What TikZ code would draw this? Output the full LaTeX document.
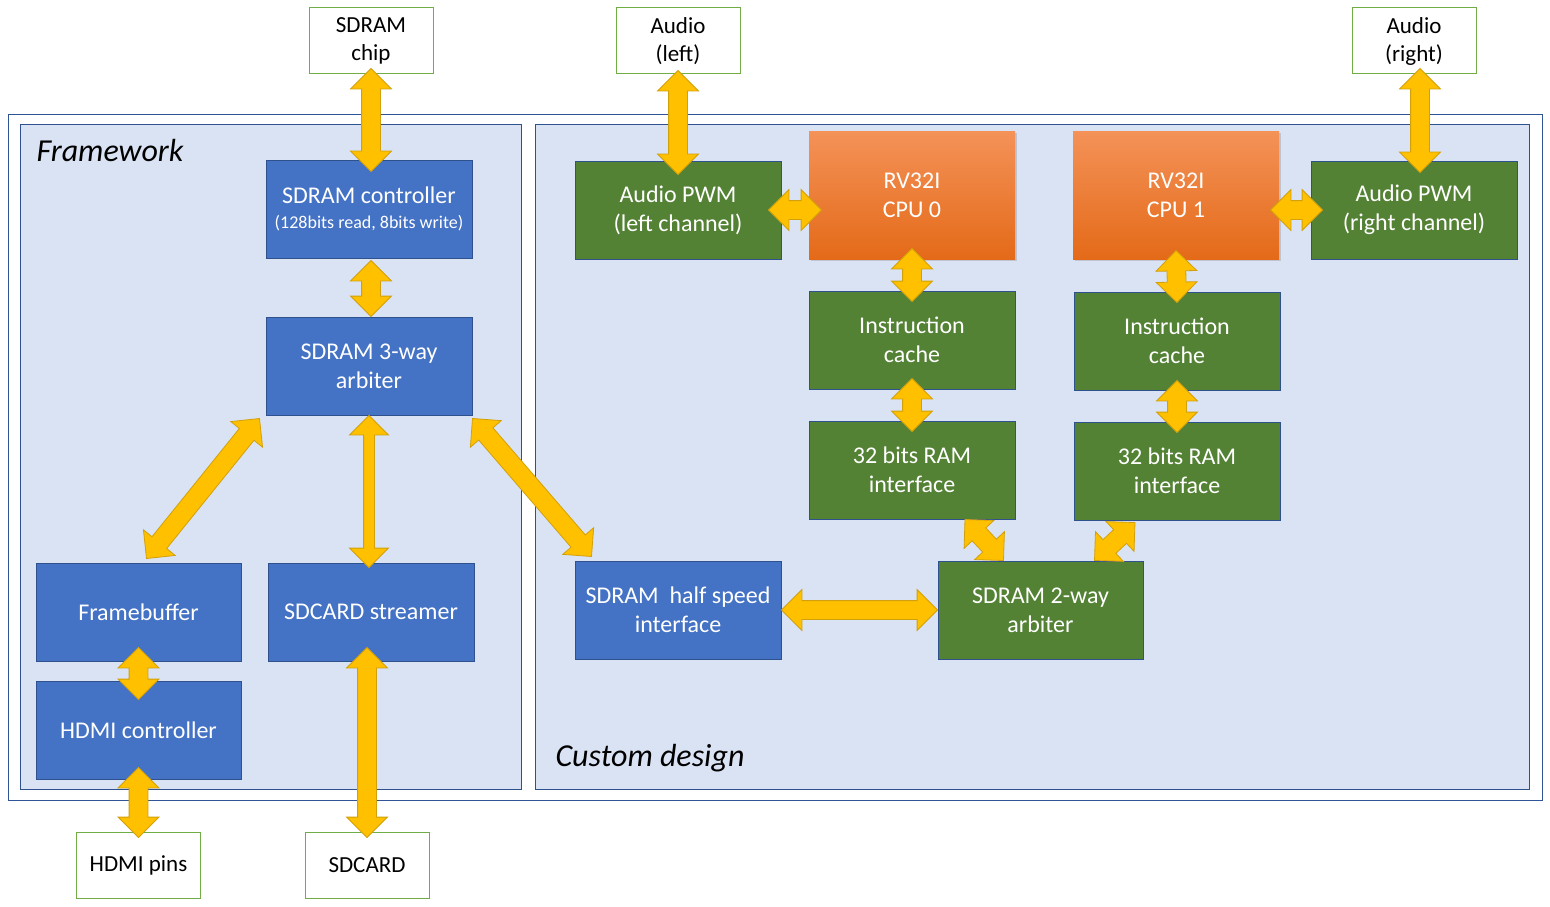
\documentclass[tikz,border=0pt]{standalone}
\usepackage{fontspec}
\setmainfont{Carlito}
\usetikzlibrary{calc,shapes.arrows,shadows}

\definecolor{frameblue}{RGB}{47,85,151}
\definecolor{panelfill}{RGB}{218,227,243}
\definecolor{boxblue}{RGB}{68,114,196}
\definecolor{boxedge}{RGB}{47,82,143}
\definecolor{boxgreen}{RGB}{84,130,53}
\definecolor{extgreen}{RGB}{112,173,71}
\definecolor{cputop}{RGB}{244,146,88}
\definecolor{cpubot}{RGB}{228,106,24}
\definecolor{linkfill}{RGB}{255,192,0}
\definecolor{linkedge}{RGB}{210,160,10}

% double block arrow between two points
\newcommand\bidir[3][]{%
  \path let \p1=#2, \p2=#3, \n1={veclen(\x2-\x1,\y2-\y1)} in
    (\p1) -- (\p2) node[link,#1,sloped,midway,minimum height=\n1] {};}

\begin{document}
\begin{tikzpicture}[x=1pt,y=-1pt,
  blk/.style={draw=boxedge,fill=boxblue,text=white,line width=1pt,minimum width=206pt,minimum height=98pt,align=center,font=\fontsize{24}{29}\selectfont},
  grn/.style={blk,fill=boxgreen},
  cpu/.style={blk,draw=none,top color=cputop,bottom color=cpubot,minimum height=128pt,drop shadow={opacity=0.3,shadow xshift=2pt,shadow yshift=-2pt}},
  ext/.style={draw=extgreen,fill=white,line width=1pt,minimum width=124pt,minimum height=66pt,align=center,font=\fontsize{23}{28}\selectfont},
  panel/.style={draw=boxedge,fill=panelfill,line width=1pt},
  lbl/.style={anchor=west,font=\fontsize{32}{38}\selectfont\itshape},
  link/.style={double arrow,draw=linkedge,fill=linkfill,line width=0.8pt,inner xsep=0pt,inner ysep=9pt,minimum width=0pt,double arrow head extend=11pt},
  linkthin/.style={inner ysep=5pt,double arrow head extend=14pt}]
\useasboundingbox (0,0) rectangle (1550,907);

%frames
\draw[draw=frameblue,line width=1pt] (8,114) rectangle (1542,800);
\draw[panel] (20,124) rectangle (521,789);
\draw[panel] (535,124) rectangle (1529,789);
\node[lbl] (fwlbl) at (33,150) {Framework};
\node[lbl] (cdlbl) at (552,758) {Custom design};

%outside
\node[ext] (chip) at (371,41) {SDRAM\\chip};
\node[ext] (audioL) at (678,41) {Audio\\(left)};
\node[ext] (audioR) at (1414,41) {Audio\\(right)};
\node[ext] (hdmipins) at (138.5,865) {HDMI pins};
\node[ext] (sdcard) at (367,865) {SDCARD};

%framework
\node[blk] (ctrl) at (369,209) {SDRAM controller\\[-4pt]{\fontsize{18}{22}\selectfont (128bits read, 8bits write)}};
\node[blk] (arb3) at (369,366) {SDRAM 3-way\\arbiter};
\node[blk,minimum width=205pt] (fb) at (138.5,612) {Framebuffer};
\node[blk] (streamer) at (371,612) {SDCARD streamer};
\node[blk,minimum width=205pt] (hdmi) at (138.5,730) {HDMI controller};

%custom design
\node[blk] (half) at (678,610) {SDRAM~ half speed\\interface};
\node[grn] (pwmL) at (678,210) {Audio PWM\\(left channel)};
\node[cpu] (cpu0) at (912,195) {RV32I\\CPU 0};
\node[grn] (ic0) at (912,340) {Instruction\\cache};
\node[grn] (ram0) at (912,470) {32 bits RAM\\interface};
\node[cpu] (cpu1) at (1176,195) {RV32I\\CPU 1};
\node[grn] (ic1) at (1177,341) {Instruction\\cache};
\node[grn] (ram1) at (1177,471) {32 bits RAM\\interface};
\node[grn] (pwmR) at (1414,210) {Audio PWM\\(right channel)};
\node[grn,minimum width=205pt] (arb2) at (1040.5,610) {SDRAM 2-way\\arbiter};

%links
\bidir{([yshift=6pt]chip.south)}{([yshift=-12pt]chip.south |- ctrl.north)}
\bidir{([xshift=2pt,yshift=-2pt]ctrl.south)}{([xshift=2pt]arb3.north)}
\bidir{([xshift=-6pt,yshift=-3pt]arb3.south west)}{([xshift=8pt,yshift=4pt]fb.north)}
\bidir[linkthin]{(arb3.south)}{([yshift=-5pt]arb3.south |- streamer.north)}
\bidir{([yshift=-3pt]arb3.south east)}{([xshift=17pt,yshift=4pt]half.north west)}
\bidir{([yshift=14pt]fb.south)}{([yshift=-19pt]hdmi.north)}
\bidir{([yshift=12pt]hdmi.south)}{([yshift=-6pt]hdmipins.north)}
\bidir{([yshift=14pt]streamer.south -| sdcard.north)}{([yshift=-6pt]sdcard.north)}
\bidir{(half.east)}{(arb2.west)}
\bidir{([yshift=4pt]audioL.south)}{([yshift=-14pt]pwmL.north)}
\bidir{([xshift=-13pt]pwmL.east)}{([xshift=13pt]pwmL.east -| cpu0.west)}
\bidir{([yshift=11pt]cpu0.south)}{([yshift=-11pt]ic0.north)}
\bidir{([yshift=11pt]ic0.south)}{([yshift=-11pt]ram0.north)}
\bidir{([xshift=53pt]ram0.south)}{([xshift=66pt]arb2.north west)}
\bidir{([xshift=-42pt,yshift=-2pt]ram1.south)}{([xshift=-49pt]arb2.north east)}
\bidir{([yshift=9pt]cpu1.south)}{([yshift=-11pt]ic1.north)}
\bidir{([yshift=10pt]ic1.south)}{([yshift=-11pt]ram1.north)}
\bidir{([xshift=-9pt]pwmR.west -| cpu1.east)}{([xshift=12pt]pwmR.west)}
\bidir{([xshift=6pt,yshift=6pt]audioR.south)}{([xshift=6pt,yshift=-12pt]audioR.south |- pwmR.north)}

\end{tikzpicture}
\end{document}
